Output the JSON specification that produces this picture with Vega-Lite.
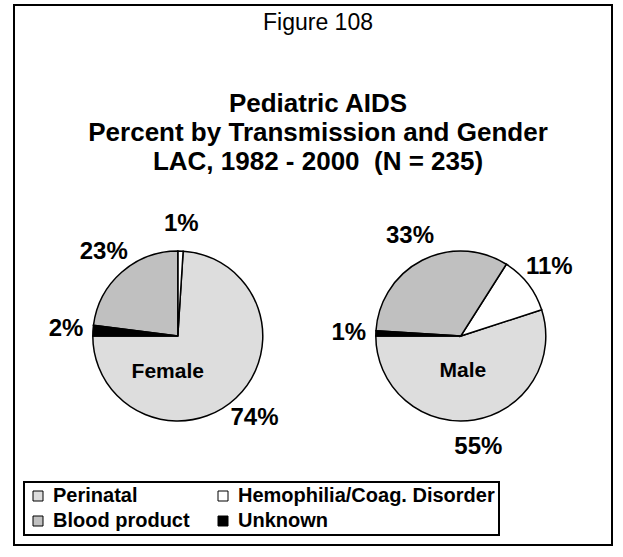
{
  "$schema": "https://vega.github.io/schema/vega-lite/v6.json",
  "width": 623,
  "height": 557,
  "autosize": {"type": "fit", "contains": "padding"},
  "padding": {"left": 14, "top": 5, "right": 11, "bottom": 12},
  "background": "white",
  "config": {
    "font": "Liberation Sans",
    "view": {"stroke": "black", "strokeWidth": 2}
  },
  "title": {
    "text": "Figure 108",
    "subtitle": ["Pediatric AIDS", "Percent by Transmission and Gender", "LAC, 1982 - 2000\u00a0 (N = 235)"],
    "anchor": "middle",
    "frame": "group",
    "orient": "top",
    "offset": -170,
    "dx": 5,
    "font": "Liberation Sans",
    "fontSize": 23,
    "fontWeight": "normal",
    "color": "black",
    "subtitleFont": "Liberation Sans",
    "subtitleFontSize": 26,
    "subtitleFontWeight": "bold",
    "subtitleColor": "black",
    "subtitleLineHeight": 29,
    "subtitlePadding": 56
  },
  "data": {
    "values": [
      {"gender": "Female", "transmission": "Perinatal", "share": 0.74},
      {"gender": "Female", "transmission": "Hemophilia/Coag. Disorder", "share": 0.01},
      {"gender": "Female", "transmission": "Blood product", "share": 0.23},
      {"gender": "Female", "transmission": "Unknown", "share": 0.02},
      {"gender": "Male", "transmission": "Perinatal", "share": 0.55},
      {"gender": "Male", "transmission": "Hemophilia/Coag. Disorder", "share": 0.11},
      {"gender": "Male", "transmission": "Blood product", "share": 0.33},
      {"gender": "Male", "transmission": "Unknown", "share": 0.01}
    ]
  },
  "encoding": {
    "x": {"field": "gender", "type": "nominal", "axis": null, "sort": ["Female", "Male"], "scale": {"type": "point", "padding": 0.5565, "align": 0.52}},
    "y": {"datum": "pie", "type": "nominal", "axis": null, "scale": {"type": "point", "align": 0.613}}
  },
  "layer": [
    {
      "transform": [{"filter": "datum.gender === 'Female'"}],
      "encoding": {
        "theta": {"field": "share", "type": "quantitative", "stack": true, "scale": {"domain": [0, 1], "range": [4.8381, 11.1213]}},
        "order": {"field": "transmission", "sort": "ascending"}
      },
      "layer": [
        {
          "mark": {"type": "arc", "outerRadius": 85, "stroke": "black", "strokeWidth": 1.5},
          "encoding": {
            "color": {
              "field": "transmission", "type": "nominal",
              "scale": {"domain": ["Perinatal", "Blood product", "Hemophilia/Coag. Disorder", "Unknown"], "range": ["#dddddd", "#c0c0c0", "#ffffff", "#000000"]},
              "legend": {
                "title": null, "orient": "bottom-left", "offset": 10, "columns": 2,
                "symbolType": "square", "symbolSize": 100, "symbolStrokeColor": "black", "symbolStrokeWidth": 1, "symbolOpacity": 1,
                "labelFont": "Liberation Sans", "labelFontSize": 20, "labelFontWeight": "bold", "labelColor": "black", "labelLimit": 400, "labelOffset": 5,
                "strokeColor": "black", "fillColor": "white", "padding": 4, "columnPadding": 23, "rowPadding": 5,
                "encode": {"legend": {"update": {"strokeWidth": {"value": 2}}}}
              }
            }
          }
        },
        {
          "mark": {"type": "text", "radius": 112, "fontSize": 24, "fontWeight": "bold", "color": "black"},
          "encoding": {"text": {"field": "share", "type": "quantitative", "format": ".0%"}}
        }
      ]
    },
    {
      "transform": [{"filter": "datum.gender === 'Male'"}],
      "encoding": {
        "theta": {"field": "share", "type": "quantitative", "stack": true, "scale": {"domain": [0, 1], "range": [4.7752, 11.0584]}},
        "order": {"field": "transmission", "sort": "ascending"}
      },
      "layer": [
        {
          "mark": {"type": "arc", "outerRadius": 85, "stroke": "black", "strokeWidth": 1.5},
          "encoding": {
            "color": {"field": "transmission", "type": "nominal"}
          }
        },
        {
          "mark": {"type": "text", "radius": 112, "fontSize": 24, "fontWeight": "bold", "color": "black"},
          "encoding": {"text": {"field": "share", "type": "quantitative", "format": ".0%"}}
        }
      ]
    },
    {
      "transform": [{"filter": "datum.transmission === 'Perinatal' && datum.gender === 'Female'"}],
      "mark": {"type": "text", "fontSize": 21, "fontWeight": "bold", "color": "black", "dy": 36, "dx": -10},
      "encoding": {"text": {"field": "gender", "type": "nominal"}}
    },
    {
      "transform": [{"filter": "datum.transmission === 'Perinatal' && datum.gender === 'Male'"}],
      "mark": {"type": "text", "fontSize": 21, "fontWeight": "bold", "color": "black", "dy": 35, "dx": 2},
      "encoding": {"text": {"field": "gender", "type": "nominal"}}
    }
  ],
  "resolve": {"scale": {"theta": "independent"}}
}
